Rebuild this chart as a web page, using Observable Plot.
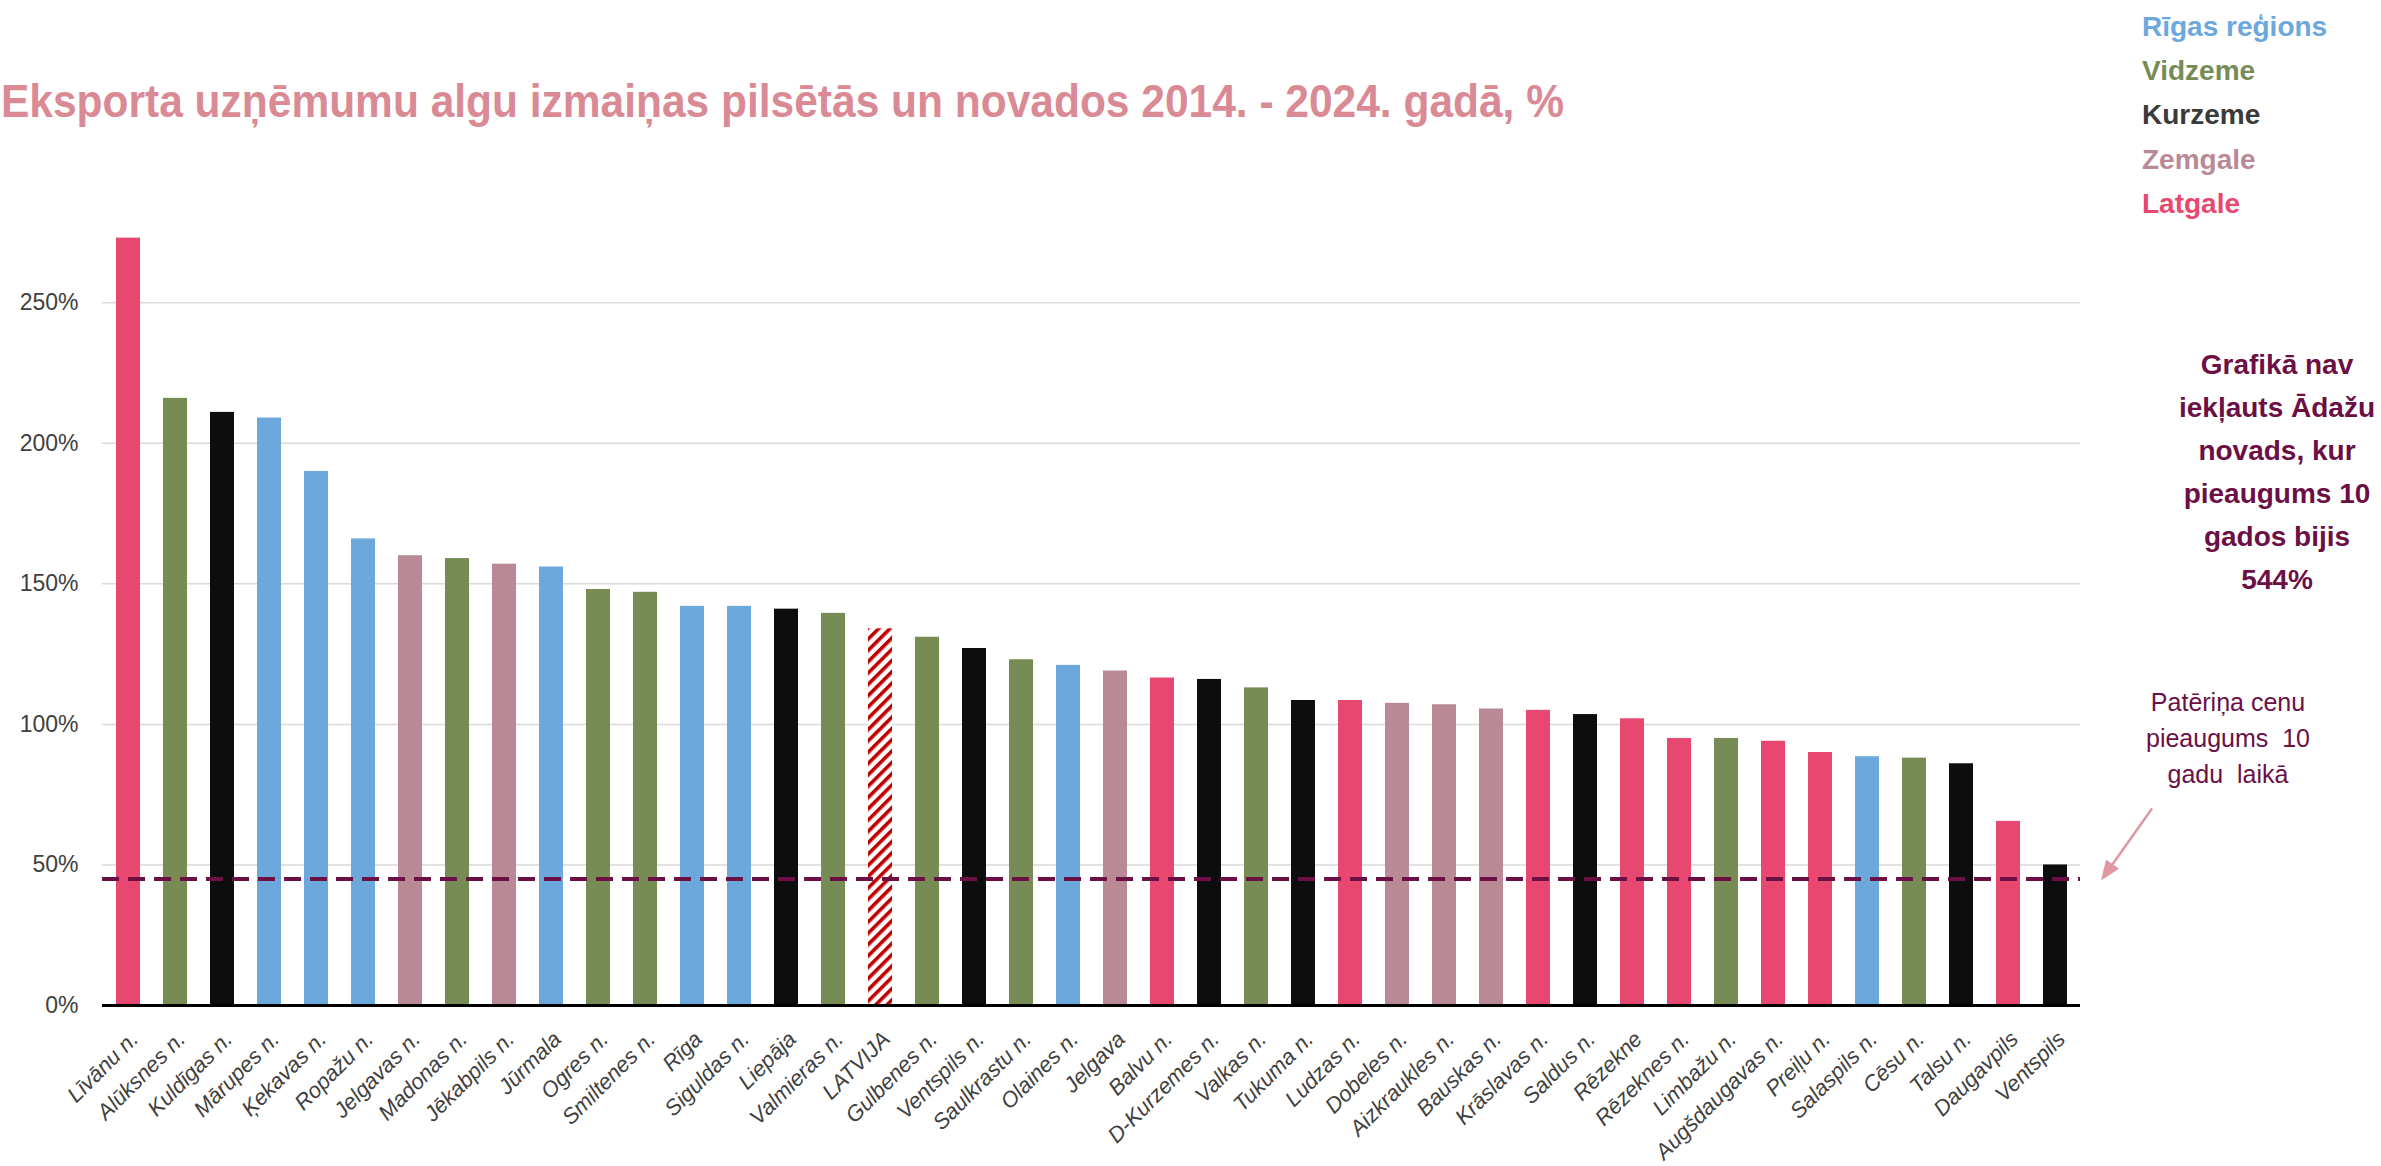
<!DOCTYPE html>
<html>
<head>
<meta charset="utf-8">
<script src="https://cdn.jsdelivr.net/npm/d3@7"></script>
<script src="https://cdn.jsdelivr.net/npm/@observablehq/plot@0.6"></script>
<style>
  html, body { margin: 0; padding: 0; background: #fff; }
  #wrap { position: relative; width: 2381px; height: 1166px; overflow: hidden; font-family: "Liberation Sans", Arial, sans-serif; }
  #wrap > svg.plot { position: absolute; left: 0; top: 0; }
  .title { position: absolute; left: 0; top: 0; }
  .legend { position: absolute; left: 2142px; top: 5px; font-weight: bold; font-size: 28px; line-height: 44.2px; white-space: nowrap; }
  .note1 { position: absolute; left: 2127px; top: 343px; width: 300px; text-align: center; font-weight: bold; font-size: 28px; line-height: 43px; color: #6B0F45; white-space: nowrap; }
  .note2 { position: absolute; left: 2078px; top: 684px; width: 300px; text-align: center; font-size: 25px; line-height: 36px; color: #6B0F45; white-space: nowrap; }
</style>
</head>
<body>
<div id="wrap"></div>
<script>
// ---- data ----
const categories = ["Līvānu n.", "Alūksnes n.", "Kuldīgas n.", "Mārupes n.", "Ķekavas n.", "Ropažu n.", "Jelgavas n.", "Madonas n.", "Jēkabpils n.", "Jūrmala", "Ogres n.", "Smiltenes n.", "Rīga", "Siguldas n.", "Liepāja", "Valmieras n.", "LATVIJA", "Gulbenes n.", "Ventspils n.", "Saulkrastu n.", "Olaines n.", "Jelgava", "Balvu n.", "D-Kurzemes n.", "Valkas n.", "Tukuma n.", "Ludzas n.", "Dobeles n.", "Aizkraukles n.", "Bauskas n.", "Krāslavas n.", "Saldus n.", "Rēzekne", "Rēzeknes n.", "Limbažu n.", "Augšdaugavas n.", "Preiļu n.", "Salaspils n.", "Cēsu n.", "Talsu n.", "Daugavpils", "Ventspils"];
const values = [273, 216, 211, 209, 190, 166, 160, 159, 157, 156, 148, 147, 142, 142, 141, 139.5, 134, 131, 127, 123, 121, 119, 116.5, 116, 113, 108.5, 108.5, 107.5, 107, 105.5, 105, 103.5, 102, 95, 95, 94, 90, 88.5, 88, 86, 65.5, 50];
const regions = ["Latgale", "Vidzeme", "Kurzeme", "Rīgas reģions", "Rīgas reģions", "Rīgas reģions", "Zemgale", "Vidzeme", "Zemgale", "Rīgas reģions", "Vidzeme", "Vidzeme", "Rīgas reģions", "Rīgas reģions", "Kurzeme", "Vidzeme", "Latvija", "Vidzeme", "Kurzeme", "Vidzeme", "Rīgas reģions", "Zemgale", "Latgale", "Kurzeme", "Vidzeme", "Kurzeme", "Latgale", "Zemgale", "Zemgale", "Zemgale", "Latgale", "Kurzeme", "Latgale", "Latgale", "Vidzeme", "Latgale", "Latgale", "Rīgas reģions", "Vidzeme", "Kurzeme", "Latgale", "Kurzeme"];
const regionNames = ["Rīgas reģions", "Vidzeme", "Kurzeme", "Zemgale", "Latgale"];
const regionColors = ["#6CA8DC", "#778C55", "#0D0D0D", "#B98A96", "#E8476F"];
const legendTextColors = ["#6CA8DC", "#778C55", "#3A3A3A", "#B98A96", "#E8476F"];
const cpiGrowth = 45;
const yTicks = [0, 50, 100, 150, 200, 250];
const titleText = "Eksporta uzņēmumu algu izmaiņas pilsētās un novados 2014. - 2024. gadā, %";
const note1Lines = ["Grafikā nav", "iekļauts Ādažu", "novads, kur", "pieaugums 10", "gados bijis", "544%"];
const note2Lines = ["Patēriņa cenu", "pieaugums  10", "gadu  laikā"];

// ---- build ----
const data = categories.map((c, i) => ({name: c, value: values[i], region: regions[i]}));
const wrap = document.getElementById("wrap");

const plot = Plot.plot({
  width: 2381,
  height: 1166,
  marginTop: 232,
  marginBottom: 161,
  marginLeft: 102,
  marginRight: 301,
  style: {fontFamily: "'Liberation Sans', Arial, sans-serif", background: "transparent"},
  x: {type: "band", domain: categories, paddingInner: 0.5, paddingOuter: 0.25, align: 0.5},
  y: {domain: [0, 275]},
  color: {domain: regionNames, range: regionColors},
  marks: [
    Plot.gridY(yTicks.filter(t => t > 0), {stroke: "#D9D9D9", strokeOpacity: 1, strokeWidth: 1.5}),
    Plot.barY(data.filter(d => d.region !== "Latvija"), {x: "name", y: "value", fill: "region"}),
    Plot.barY(data.filter(d => d.region === "Latvija"), {x: "name", y: "value", fill: "url(#latvija-hatch)"}),
    Plot.ruleY([cpiGrowth], {stroke: "#6B0F45", strokeWidth: 4, strokeDasharray: "17,9"}),
    Plot.ruleY([0], {stroke: "#000", strokeWidth: 3}),
    Plot.axisY({ticks: yTicks, tickFormat: d => d + "%", tickSize: 0, tickPadding: 24, fontSize: 23, fill: "#404040", label: null}),
    Plot.axisX({tickRotate: -45, tickSize: 0, tickPadding: 16, dx: 6, dy: 14, fontSize: 22, fontStyle: "italic", fill: "#404040", label: null})
  ]
});
plot.classList.add("plot");

// hatch pattern for LATVIJA
const svgSel = d3.select(plot);
const defs = svgSel.insert("defs", ":first-child");
const pat = defs.append("pattern")
  .attr("id", "latvija-hatch")
  .attr("patternUnits", "userSpaceOnUse")
  .attr("width", 8).attr("height", 8)
  .attr("patternTransform", "rotate(45)");
pat.append("rect").attr("width", 8).attr("height", 8).attr("fill", "#fff");
pat.append("rect").attr("width", 3.6).attr("height", 8).attr("fill", "#C00000");

wrap.appendChild(plot);

// arrow pointing at the CPI line, placed via the plot scales
const xs = plot.scale("x"), ys = plot.scale("y");
const lastCat = categories[categories.length - 1];
const tipX = xs.apply(lastCat) + xs.bandwidth / 2 + xs.step - 1;
const tipY = ys.apply(cpiGrowth) + 2;
const startX = tipX + 51, startY = tipY - 72;
const ang = Math.atan2(tipY - startY, tipX - startX);
const hl = 20, hw = 8;
const bx = tipX - hl * Math.cos(ang), by = tipY - hl * Math.sin(ang);
const ag = svgSel.append("g").attr("class", "cpi-arrow");
ag.append("line").attr("x1", startX).attr("y1", startY).attr("x2", bx).attr("y2", by)
  .attr("stroke", "#DE98A2").attr("stroke-width", 2.5);
ag.append("polygon")
  .attr("points", [
    [tipX, tipY],
    [bx + hw * Math.sin(ang), by - hw * Math.cos(ang)],
    [bx - hw * Math.sin(ang), by + hw * Math.cos(ang)]
  ].map(p => p.join(",")).join(" "))
  .attr("fill", "#DE98A2");

// title
const tsvg = d3.select(wrap).append("svg").attr("class", "title").attr("width", 2381).attr("height", 160);
tsvg.append("text").attr("x", 1).attr("y", 117)
  .attr("font-family", "'Liberation Sans', Arial, sans-serif")
  .attr("font-weight", "bold").attr("font-size", 46)
  .attr("fill", "#DA8A95")
  .attr("textLength", 1563).attr("lengthAdjust", "spacingAndGlyphs")
  .text(titleText);

// legend
const leg = d3.select(wrap).append("div").attr("class", "legend");
regionNames.forEach((r, i) => leg.append("div").style("color", legendTextColors[i]).text(r));

// notes
const n1 = d3.select(wrap).append("div").attr("class", "note1");
note1Lines.forEach(l => n1.append("div").text(l));
const n2 = d3.select(wrap).append("div").attr("class", "note2");
note2Lines.forEach(l => n2.append("div").style("white-space", "pre").text(l));
</script>
</body>
</html>
